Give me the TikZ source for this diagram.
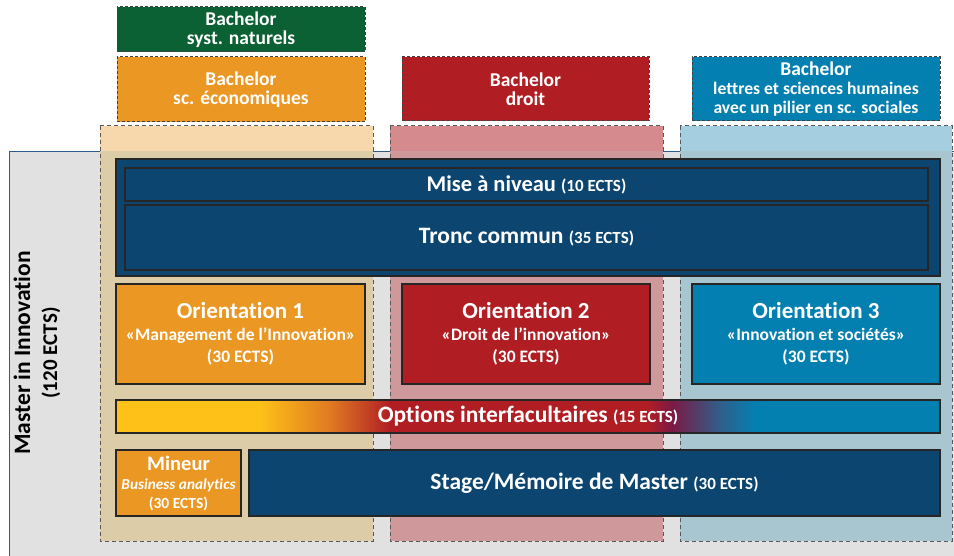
\documentclass[tikz,border=0pt]{standalone}
\usepackage{fontspec}
\setmainfont[Ligatures=NoCommon]{Carlito}
\usetikzlibrary{positioning}

\definecolor{bachgreen}{HTML}{0B6134}
\definecolor{bachorange}{HTML}{EA9724}
\definecolor{bachred}{HTML}{B01E24}
\definecolor{bachblue}{HTML}{0480B0}
\definecolor{navy}{HTML}{0B4570}
\definecolor{peachtop}{HTML}{F7D7AC}
\definecolor{peachlow}{HTML}{DCCCA8}
\definecolor{pinktop}{HTML}{D58B8E}
\definecolor{pinklow}{HTML}{CF999C}
\definecolor{skytop}{HTML}{A5CFE1}
\definecolor{skylow}{HTML}{A7C6D0}
\definecolor{mastergrey}{HTML}{E1E1E1}
\definecolor{masterline}{HTML}{2E5C8A}
\definecolor{optyellow}{HTML}{FDC117}
\definecolor{optorange}{HTML}{E07A22}
\definecolor{optpurple}{HTML}{7A1A44}
\definecolor{optsteel}{HTML}{2F5F8A}

\newcommand{\smallects}{\fontsize{17}{17}\selectfont}

\tikzset{
  bachbox/.style={draw=black!75, dash pattern=on 3pt off 2pt, line width=1pt,
    text=white, align=center, inner sep=0pt, outer sep=0pt, anchor=north west,
    font=\bfseries\fontsize{19.5}{19}\selectfont},
  band/.style={draw=black!65, dash pattern=on 4pt off 3pt, line width=1pt},
  block/.style={draw=black!85, line width=1.3pt, text=white, align=center,
    inner sep=0pt, outer sep=0pt, anchor=north west},
  orient/.style={block, minimum width=248pt, minimum height=100pt,
    font=\bfseries\fontsize{17.5}{22}\selectfont}
}

\begin{document}
\begin{tikzpicture}[x=1pt,y=-1pt]
\useasboundingbox (0,0) rectangle (954,556);

% master area
\fill[mastergrey] (9,151) rectangle (954,556);
\draw[masterline, line width=0.8pt] (954,151) -- (9,151) -- (9,556);
\node[rotate=90, align=center, font=\bfseries\fontsize{23.5}{27}\selectfont] (master) at (37,353)
  {Master in Innovation\\{\fontsize{21}{24}\selectfont (120 ECTS)}};

% column bands
\fill[peachtop] (100,126) rectangle (373,151);
\fill[peachlow] (100,151) rectangle (373,541);
\draw[band] (100,126) rectangle (373,541);
\fill[pinktop] (390,126) rectangle (663,151);
\fill[pinklow] (390,151) rectangle (663,541);
\draw[band] (390,126) rectangle (663,541);
\fill[skytop] (680,126) rectangle (952,151);
\fill[skylow] (680,151) rectangle (952,541);
\draw[band] (680,126) rectangle (952,541);

% bachelors
\node[bachbox, fill=bachgreen, minimum width=248pt, minimum height=45pt] (bnat) at (117,7)
  {Bachelor\\syst. naturels};
\node[bachbox, fill=bachorange, minimum width=248pt, minimum height=65pt] (beco) at (117,57)
  {Bachelor\\sc. économiques};
\node[bachbox, fill=bachred, minimum width=247pt, minimum height=64pt] (bdroit) at (402,57)
  {Bachelor\\droit};
\node[bachbox, fill=bachblue, minimum width=248pt, minimum height=64pt] (blettres) at (692,57)
  {Bachelor\\{\fontsize{17.6}{17.5}\selectfont lettres et sciences humaines}\\{\fontsize{17.6}{17.5}\selectfont avec un pilier en sc. sociales}};

% common part
\node[block, fill=navy, minimum width=824pt, minimum height=117pt] (commun) at (116,159) {};
\node[block, fill=navy, minimum width=803pt, minimum height=33pt,
  font=\bfseries\fontsize{22.5}{22}\selectfont] (mise) at (125,168)
  {Mise à niveau {\smallects (10 ECTS)}};
\node[block, fill=navy, minimum width=803pt, minimum height=65pt,
  font=\bfseries\fontsize{23.5}{23}\selectfont] (tronc) at (125,205)
  {Tronc commun {\smallects (35 ECTS)}};

% orientations
\node[orient, fill=bachorange, minimum width=249pt] (or1) at (116,284)
  {{\fontsize{23}{23}\selectfont Orientation 1}\\«Management de l’Innovation»\\(30 ECTS)};
\node[orient, fill=bachred] (or2) at (402,284)
  {{\fontsize{23}{23}\selectfont Orientation 2}\\«Droit de l’innovation»\\(30 ECTS)};
\node[orient, fill=bachblue] (or3) at (692,284)
  {{\fontsize{23}{23}\selectfont Orientation 3}\\«Innovation et sociétés»\\(30 ECTS)};

% options bar (gradient)
\fill[optyellow] (116,400) rectangle (260,433);
\shade[left color=optyellow, right color=optorange] (260,400) rectangle (330,433);
\shade[left color=optorange, right color=bachred] (330,400) rectangle (390,433);
\fill[bachred] (390,400) rectangle (648,433);
\shade[left color=bachred, right color=optpurple] (648,400) rectangle (672,433);
\shade[left color=optpurple, right color=optsteel] (672,400) rectangle (720,433);
\shade[left color=optsteel, right color=bachblue] (720,400) rectangle (755,433);
\fill[bachblue] (755,400) rectangle (940,433);
\node[block, minimum width=824pt, minimum height=33pt,
  font=\bfseries\fontsize{23.5}{23}\selectfont] (options) at (116,400)
  {Options interfacultaires {\smallects (15 ECTS)}};

% last line
\node[block, fill=bachorange, minimum width=125pt, minimum height=66pt,
  font=\bfseries\fontsize{15.5}{19}\selectfont] (mineur) at (116,450)
  {{\fontsize{20.5}{20}\selectfont Mineur}\\{\itshape\fontsize{15.3}{18}\selectfont Business analytics}\\(30 ECTS)};
\node[block, fill=navy, minimum width=691pt, minimum height=66pt,
  font=\bfseries\fontsize{23.5}{23}\selectfont] (stage) at (249,450)
  {Stage/Mémoire de Master {\smallects (30 ECTS)}};
\end{tikzpicture}
\end{document}
